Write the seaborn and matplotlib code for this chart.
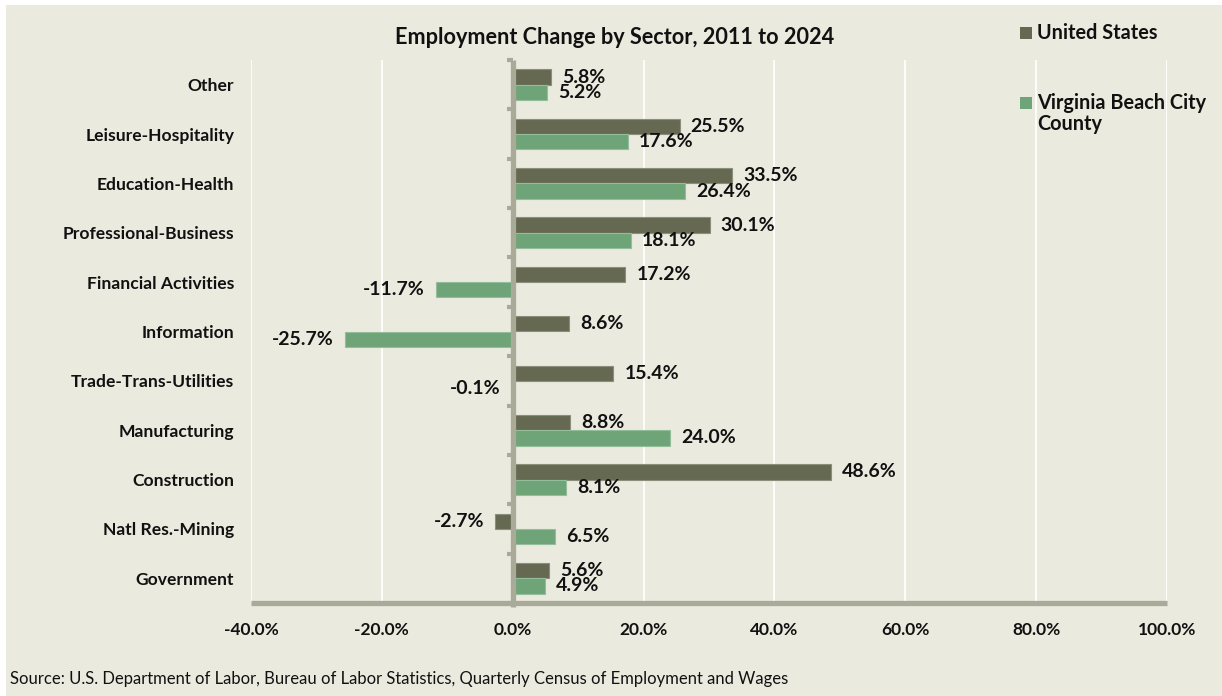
import numpy as np
import pandas as pd
import matplotlib
matplotlib.use("Agg")
import matplotlib.pyplot as plt
from matplotlib.patches import Rectangle
import seaborn as sns

sectors = ["Other", "Leisure-Hospitality", "Education-Health", "Professional-Business",
           "Financial Activities", "Information", "Trade-Trans-Utilities", "Manufacturing",
           "Construction", "Natl Res.-Mining", "Government"]
us_values = [5.8, 25.5, 33.5, 30.1, 17.2, 8.6, 15.4, 8.8, 48.6, -2.7, 5.6]
vb_values = [5.2, 17.6, 26.4, 18.1, -11.7, -25.7, -0.1, 24.0, 8.1, 6.5, 4.9]
series_names = ["United States", "Virginia Beach City County"]
x_ticks = [-40, -20, 0, 20, 40, 60, 80, 100]
title = "Employment Change by Sector, 2011 to 2024"
source = "Source: U.S. Department of Labor, Bureau of Labor Statistics, Quarterly Census of Employment and Wages"

BG = "#EAEADF"
US_C = "#666952"
VB_C = "#6EA478"
AXC = "#A9AA98"
FONT = ["Lato", "DejaVu Sans"]

sns.set_theme(style="white")
plt.rcParams["font.family"] = FONT

df = pd.DataFrame({
    "sector": sectors * 2,
    "value": us_values + vb_values,
    "region": [series_names[0]] * len(sectors) + [series_names[1]] * len(sectors),
})

fig = plt.figure(figsize=(12.22, 6.96), dpi=100, facecolor="white")
bg = Rectangle((6 / 1222, 0), 1 - 6 / 1222, 1 - 5 / 696,
               transform=fig.transFigure, facecolor=BG, edgecolor="none", zorder=-10)
fig.patches.append(bg)
ax = fig.add_axes([251 / 1222, 1 - 603 / 696, (1167 - 251) / 1222, (603 - 60) / 696])
ax.set_facecolor(BG)

sns.barplot(data=df, y="sector", x="value", hue="region", order=sectors,
            hue_order=series_names, palette=[US_C, VB_C], orient="h", width=0.62,
            saturation=1, dodge=True, legend=False, ax=ax, zorder=3)

edge_cols = ["#8C8E7C", "#93BE9C"]
for cont, ec in zip(ax.containers, edge_cols):
    for p in cont:
        p.set_edgecolor(ec)
        p.set_linewidth(0.8)

vals_list = [us_values, vb_values]
for cont, vals in zip(ax.containers, vals_list):
    ax.bar_label(cont, labels=[f"{v:.1f}%" for v in vals], padding=8,
                 fontsize=14, fontweight="bold", color="#111111", zorder=5)

ax.set_xlim(-40, 100)
ax.set_ylim(len(sectors) - 0.5, -0.5)
ax.set_xticks(x_ticks)
ax.set_xticklabels([f"{t:.1f}%" for t in x_ticks], fontsize=12.5, fontweight="bold", color="#111111")
ax.set_yticks(range(len(sectors)))
ax.set_yticklabels(sectors, fontsize=12.6, fontweight="bold", color="#111111")
ax.set_xlabel("")
ax.set_ylabel("")
ax.tick_params(axis="y", length=0, pad=12)
ax.tick_params(axis="x", length=6, width=3, color=AXC, pad=8, direction="out")

ax.grid(axis="x", color="white", lw=1.3, zorder=1)
ax.grid(axis="y", visible=False)
ax.set_axisbelow(True)
for s in ["top", "right", "left"]:
    ax.spines[s].set_visible(False)
ax.spines["bottom"].set_color(AXC)
ax.spines["bottom"].set_linewidth(3.8)
ax.spines["bottom"].set_capstyle("butt")
ax.spines["bottom"].set_zorder(4)

ax.axvline(0, ymin=-0.008, ymax=1, color=AXC, lw=3.8, zorder=4, clip_on=False, solid_capstyle="butt")
ax.hlines(np.arange(-0.5, len(sectors), 1), xmin=-0.8, xmax=0, color=AXC, lw=3, zorder=4, clip_on=False)

fig.text(615 / 1222, 1 - 37 / 696, title, ha="center", va="center",
         fontsize=15.6, fontweight="bold", color="#111111")

# legend
leg_items = [(series_names[0], US_C, 33), ("Virginia Beach City\nCounty", VB_C, 103)]
for label, col, yc in leg_items:
    fig.patches.append(Rectangle((1020 / 1222, 1 - (yc + 6) / 696), 12 / 1222, 12 / 696,
                                 transform=fig.transFigure, facecolor=col, edgecolor="none", zorder=3))
    fig.text(1037 / 1222, 1 - (yc - 10) / 696, label, ha="left", va="top", fontsize=14.3,
             fontweight="bold", color="#111111", linespacing=1.05)

fig.text(10 / 1222, 1 - 679 / 696, source, ha="left", va="center", fontsize=12, color="#111111")

fig.savefig("out.png", dpi=100, facecolor=fig.get_facecolor())
